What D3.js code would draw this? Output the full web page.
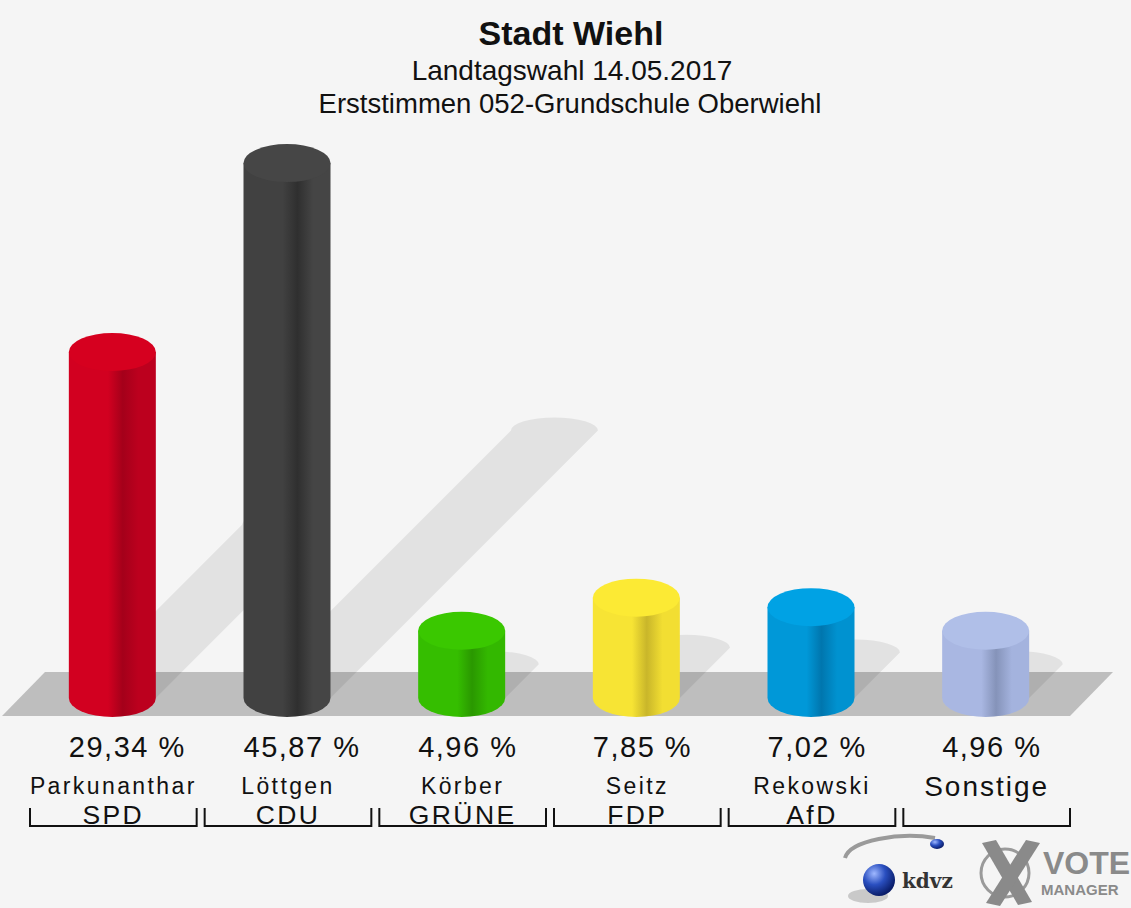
<!DOCTYPE html>
<html><head><meta charset="utf-8">
<script src="https://cdn.jsdelivr.net/npm/d3@7"></script>
<style>html,body{margin:0;padding:0;background:#f5f5f5;}svg{display:block;}</style>
</head><body>
<svg id="c" width="1131" height="908"></svg>
<script>
const parties = ["SPD","CDU","GRÜNE","FDP","AfD","Sonstige"];
const candidates = ["Parkunanthar","Löttgen","Körber","Seitz","Rekowski",""];
const values = [29.34, 45.87, 4.96, 7.85, 7.02, 4.96];
const valueLabels = ["29,34 %","45,87 %","4,96 %","7,85 %","7,02 %","4,96 %"];
const colors = [
  {top:"#d6001f", l:"#d20020", d:"#a4001a", r:"#bc001e"},
  {top:"#464646", l:"#414141", d:"#2f2f2f", r:"#454545"},
  {top:"#3ac800", l:"#35be00", d:"#2a9800", r:"#33b800"},
  {top:"#fcea34", l:"#f7e434", d:"#c9b62a", r:"#f2de32"},
  {top:"#00a2e4", l:"#0098d8", d:"#0076ae", r:"#0092d0"},
  {top:"#b0bfe8", l:"#a9b7e2", d:"#8593b9", r:"#a4b3de"}
];

const svg = d3.select("#c");
const W = 1131, H = 908;
svg.append("rect").attr("width",W).attr("height",H).attr("fill","#f5f5f5");

const font = "'Liberation Sans', Arial, Helvetica, sans-serif";

// titles
svg.append("text").attr("x",571).attr("y",45).attr("text-anchor","middle")
  .attr("font-family",font).attr("font-weight","bold").attr("font-size",34).attr("fill","#111")
  .text("Stadt Wiehl");
svg.append("text").attr("x",572).attr("y",80).attr("text-anchor","middle")
  .attr("font-family",font).attr("font-size",28).attr("fill","#111")
  .text("Landtagswahl 14.05.2017");
svg.append("text").attr("x",570).attr("y",113).attr("text-anchor","middle")
  .attr("font-family",font).attr("font-size",27.5).attr("fill","#111")
  .text("Erststimmen 052-Grundschule Oberwiehl");

const x = d3.scaleBand().domain(parties).range([25,1073]);
const y = d3.scaleLinear().domain([0,50]).range([687.4,115.9]);
const baseY = 698, barW = 87, rx = barW/2, ry = 19;

const defs = svg.append("defs");
colors.forEach((c,i)=>{
  const g = defs.append("linearGradient").attr("id","g"+i).attr("x1","0").attr("x2","1").attr("y1","0").attr("y2","0");
  [[0,c.l],[0.15,c.l],[0.45,c.l],[0.62,c.d],[0.8,c.r],[1,c.r]].forEach(s=>g.append("stop").attr("offset",s[0]).attr("stop-color",s[1]));
});

// floor
const floor = [[45,672],[1113,672],[1070,716],[2,716]];
svg.append("path").attr("d","M"+floor.map(p=>p.join(",")).join("L")+"Z").attr("fill","#bebebe");

// shadows
const sh = svg.append("g");
parties.forEach((p,i)=>{
  const cx = x(p)+x.bandwidth()/2, x0 = cx-rx, x1 = cx+rx;
  const yt = y(values[i]);
  const s = (baseY-yt)*0.5;
  const d = `M${x0},${baseY} L${x0+s},${baseY-s} A${rx},${13} 0 0 1 ${x1+s},${baseY-s} L${x1},${baseY} Z`;
  sh.append("path").attr("d",d).attr("fill","#000").attr("fill-opacity",0.075);
});

// bars
const bars = svg.append("g");
parties.forEach((p,i)=>{
  const cx = x(p)+x.bandwidth()/2, x0 = cx-rx, x1 = cx+rx;
  const yt = y(values[i]);
  const d = `M${x0},${yt} L${x0},${baseY} A${rx},${ry} 0 0 0 ${x1},${baseY} L${x1},${yt} Z`;
  bars.append("path").attr("d",d).attr("fill","url(#g"+i+")");
  bars.append("ellipse").attr("cx",cx).attr("cy",yt).attr("rx",rx).attr("ry",ry).attr("fill",colors[i].top);
});

// labels
const lab = svg.append("g").attr("font-family",font).attr("fill","#111");
parties.forEach((p,i)=>{
  const cx = x(p)+x.bandwidth()/2, x0 = cx-rx;
  lab.append("text").attr("x",x0).attr("y",757).attr("font-size",29).attr("letter-spacing",1.5).text(valueLabels[i]);
  if (candidates[i]) {
    lab.append("text").attr("x",cx+1).attr("y",794).attr("text-anchor","middle").attr("font-size",23).attr("letter-spacing",2.4).text(candidates[i]);
    lab.append("text").attr("x",cx+1).attr("y",824).attr("text-anchor","middle").attr("font-size",26.5).attr("letter-spacing",2.4).text(p);
  } else {
    lab.append("text").attr("x",cx+1).attr("y",796).attr("text-anchor","middle").attr("font-size",28).attr("letter-spacing",2).text(p);
  }
  const b0 = x(p)+5, b1 = x(p)+x.bandwidth()-3;
  lab.append("path").attr("d",`M${b0},808 L${b0},826 L${b1},826 L${b1},808`)
    .attr("fill","none").attr("stroke","#111").attr("stroke-width",2);
});

// logo
const logo = svg.append("g");
const rg = defs.append("radialGradient").attr("id","sph").attr("cx","0.35").attr("cy","0.3").attr("r","0.7");
rg.append("stop").attr("offset",0).attr("stop-color","#9fb8ff");
rg.append("stop").attr("offset",0.5).attr("stop-color","#2a4fc0");
rg.append("stop").attr("offset",1).attr("stop-color","#0a1d6a");
logo.append("path").attr("d","M845,858 C850,840 900,832 935,838").attr("fill","none").attr("stroke","#9a9a9a").attr("stroke-width",4);
logo.append("ellipse").attr("cx",868).attr("cy",896).attr("rx",20).attr("ry",7).attr("fill","#777").attr("opacity",0.35);
logo.append("circle").attr("cx",879).attr("cy",880).attr("r",16).attr("fill","url(#sph)");
logo.append("ellipse").attr("cx",937).attr("cy",844).attr("rx",7).attr("ry",5).attr("fill","url(#sph)");
logo.append("text").attr("x",902).attr("y",888).attr("font-family","'DejaVu Serif', serif").attr("font-weight","bold").attr("font-size",20).attr("fill","#333").text("kdvz");
logo.append("circle").attr("cx",1005).attr("cy",873).attr("r",24).attr("fill","none").attr("stroke","#9a9a9a").attr("stroke-width",3);
logo.append("path").attr("d","M982,843 L996,840 L1032,902 L1018,905 Z").attr("fill","#8a8a8a");
logo.append("path").attr("d","M1026,840 L1040,843 L1000,906 L986,903 Z").attr("fill","#8a8a8a");
logo.append("text").attr("x",1043).attr("y",874).attr("font-family",font).attr("font-weight","bold").attr("font-size",32).attr("fill","#8a8a8a").text("VOTE");
logo.append("text").attr("x",1041).attr("y",895).attr("font-family",font).attr("font-weight","bold").attr("font-size",15).attr("fill","#8a8a8a").text("MANAGER");
</script>
</body></html>
